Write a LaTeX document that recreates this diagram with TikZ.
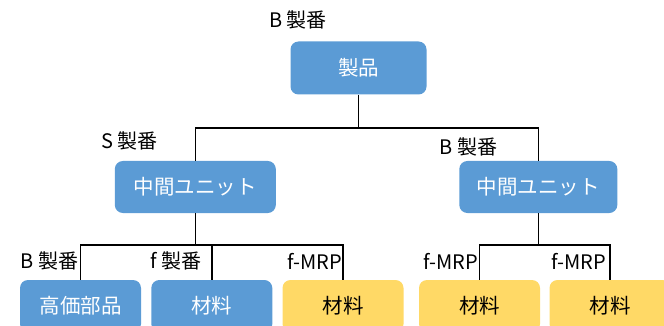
\documentclass[tikz,border=0pt]{standalone}
\usepackage{fontspec}
\setmainfont{Noto Sans CJK JP}
\definecolor{boxblue}{HTML}{5B9BD5}
\definecolor{boxyellow}{HTML}{FFD966}
\tikzset{
  bluebox/.style={fill=boxblue, draw=none, rounded corners=8pt, text=white, font=\fontsize{20.5}{24}\selectfont, inner sep=0pt},
  yellowbox/.style={fill=boxyellow, draw=none, rounded corners=8pt, text=black, font=\fontsize{20.5}{24}\selectfont, inner sep=0pt},
  lbl/.style={font=\fontsize{20}{23}\selectfont, inner sep=0pt, text=black},
  conn/.style={draw=black, line width=1.6pt}
}
\begin{document}
\begin{tikzpicture}[x=1pt,y=-1pt]
\useasboundingbox (0,0) rectangle (664,326);
% boxes
\node[bluebox, minimum width=136pt, minimum height=53pt] (p) at (358.5,68) {製品};
\node[bluebox, minimum width=161pt, minimum height=52pt] (u1) at (195.3,187) {中間ユニット};
\node[bluebox, minimum width=158pt, minimum height=52pt] (u2) at (538.3,187) {中間ユニット};
\node[bluebox, minimum width=121pt, minimum height=52pt] (b1) at (80.5,306) {高価部品};
\node[bluebox, minimum width=121pt, minimum height=52pt] (b2) at (211.8,306) {材料};
\node[yellowbox, minimum width=121pt, minimum height=52pt] (b3) at (343,306) {材料};
\node[yellowbox, minimum width=121pt, minimum height=52pt] (b4) at (479.5,306) {材料};
\node[yellowbox, minimum width=121pt, minimum height=52pt] (b5) at (610,306) {材料};
% connectors
\draw[conn] (p.south) -- (p.south |- 0,128) -| (u1.north);
\draw[conn] (p.south |- 0,128) -| (u2.north);
\draw[conn] (u1.south) -- (u1.south |- 0,245) -| (b1.north);
\draw[conn] (u1.south |- 0,245) -| (b3.north);
\draw[conn] (b2.north) -- (b2.north |- 0,245);
\draw[conn] (u2.south) -- (u2.south |- 0,245) -| (b4.north);
\draw[conn] (u2.south |- 0,245) -| (b5.north);
% labels
\node[lbl] (l0) at (298,20) {B 製番};
\node[lbl] (l1) at (129.5,141) {S 製番};
\node[lbl] (l2) at (468.5,147) {B 製番};
\node[lbl, anchor=east] (l3) at (78.5,261) {B 製番};
\node[lbl, anchor=east] (l4) at (201.5,261) {f 製番};
\node[lbl, anchor=east] (l5) at (342,261) {f-MRP};
\node[lbl, anchor=east] (l6) at (478,261) {f-MRP};
\node[lbl, anchor=east] (l7) at (606,261) {f-MRP};
\end{tikzpicture}
\end{document}
